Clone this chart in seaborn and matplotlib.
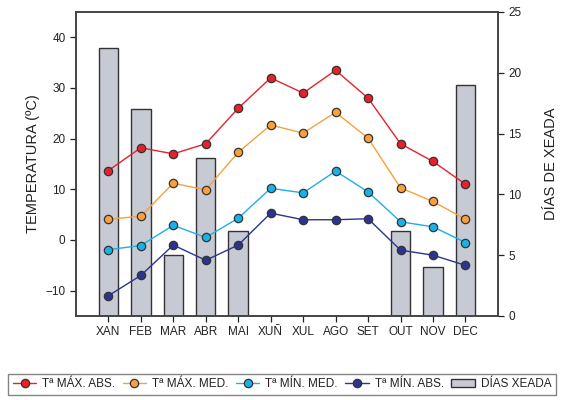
import numpy as np
import pandas as pd
import matplotlib
matplotlib.use('Agg')
import matplotlib.pyplot as plt
from matplotlib.lines import Line2D
from matplotlib.patches import Patch
import seaborn as sns

### Data ###
months = ['XAN', 'FEB', 'MAR', 'ABR', 'MAI', 'XUÑ', 'XUL', 'AGO', 'SET', 'OUT', 'NOV', 'DEC']
t_max_abs = [13.7, 18.2, 17.0, 19.0, 26.0, 32.0, 29.0, 33.5, 28.0, 19.0, 15.5, 11.0]
t_max_med = [4.1, 4.7, 11.2, 9.9, 17.3, 22.7, 21.1, 25.2, 20.1, 10.3, 7.6, 4.1]
t_min_med = [-1.9, -1.1, 2.9, 0.5, 4.3, 10.2, 9.3, 13.6, 9.5, 3.6, 2.6, -0.5]
t_min_abs = [-11.0, -7.0, -1.0, -4.0, -1.0, 5.3, 4.0, 4.0, 4.2, -2.0, -3.0, -5.0]
dias_xeada = [22, 17, 5, 13, 7, 0, 0, 0, 0, 7, 4, 19]

series_names = ['Tª MÁX. ABS.', 'Tª MÁX. MED.', 'Tª MÍN. MED.', 'Tª MÍN. ABS.']
series_colors = ['#e8202a', '#f7a03c', '#1ab0e8', '#2b3490']

df = pd.DataFrame({'mes': months, 'xeada': dias_xeada})
temps = pd.DataFrame({'mes': months * 4,
                      'temp': t_max_abs + t_max_med + t_min_med + t_min_abs,
                      'serie': sum([[s] * 12 for s in series_names], [])})
temps['x'] = np.tile(np.arange(12), 4)

sns.set_style('ticks')
plt.rcParams['font.family'] = ['Liberation Sans', 'DejaVu Sans']
edge = '#333333'
txt = '#222222'

fig, ax_t = plt.subplots(figsize=(5.62, 4.0), dpi=100)
fig.subplots_adjust(left=0.135, right=0.886, top=0.97, bottom=0.21)
ax_d = ax_t.twinx()

# bars on the right axis
sns.barplot(data=df, x='mes', y='xeada', order=months, ax=ax_d, color='#c8cad3',
            edgecolor=edge, linewidth=1.0, width=0.6, saturation=1)

# temperature lines on the left axis
sns.lineplot(data=temps, x='x', y='temp', hue='serie', hue_order=series_names,
             palette=series_colors, marker='o', markersize=6, markeredgecolor=edge,
             markeredgewidth=0.9, linewidth=1.0, ax=ax_t, legend=False)

ax_t.set_zorder(ax_d.get_zorder() + 1)
ax_t.patch.set_visible(False)

ax_t.set_xlim(-1, 12)
ax_d.set_xlim(-1, 12)
ax_t.set_ylim(-15, 45)
ax_d.set_ylim(0, 25)
ax_t.set_yticks([-10, 0, 10, 20, 30, 40])
ax_d.set_yticks([0, 5, 10, 15, 20, 25])
ax_t.set_xticks(np.arange(12))
ax_t.set_xticklabels(months)

ax_t.set_xlabel('')
ax_d.set_xlabel('')
ax_t.set_ylabel('TEMPERATURA (ºC)', fontsize=10.5, color=txt, labelpad=4)
ax_d.set_ylabel('DÍAS DE XEADA', fontsize=10.5, color=txt, labelpad=16)

for a in (ax_t, ax_d):
    a.tick_params(labelsize=8.5, colors=txt, length=4, width=0.9)
    for sp in a.spines.values():
        sp.set_visible(True)
        sp.set_color('#444444')
        sp.set_linewidth(1.2)

handles = [Line2D([0], [0], color=c, marker='o', markersize=6, markeredgecolor=edge,
                  markeredgewidth=0.9, linewidth=1.0) for c in series_colors]
handles.append(Patch(facecolor='#c8cad3', edgecolor=edge, linewidth=1.0))
labels = series_names + ['DÍAS XEADA']
leg = fig.legend(handles, labels, loc='lower left', ncol=5, mode='expand',
                 bbox_to_anchor=(8 / 562, 0.0125, 548 / 562, 0.07), fontsize=8.5,
                 frameon=True, fancybox=False, edgecolor='#666666', labelcolor=txt,
                 handlelength=2.0, handletextpad=0.5, columnspacing=0.3, borderaxespad=0)
leg.get_frame().set_linewidth(1.0)

fig.savefig('out.png', dpi=100)
